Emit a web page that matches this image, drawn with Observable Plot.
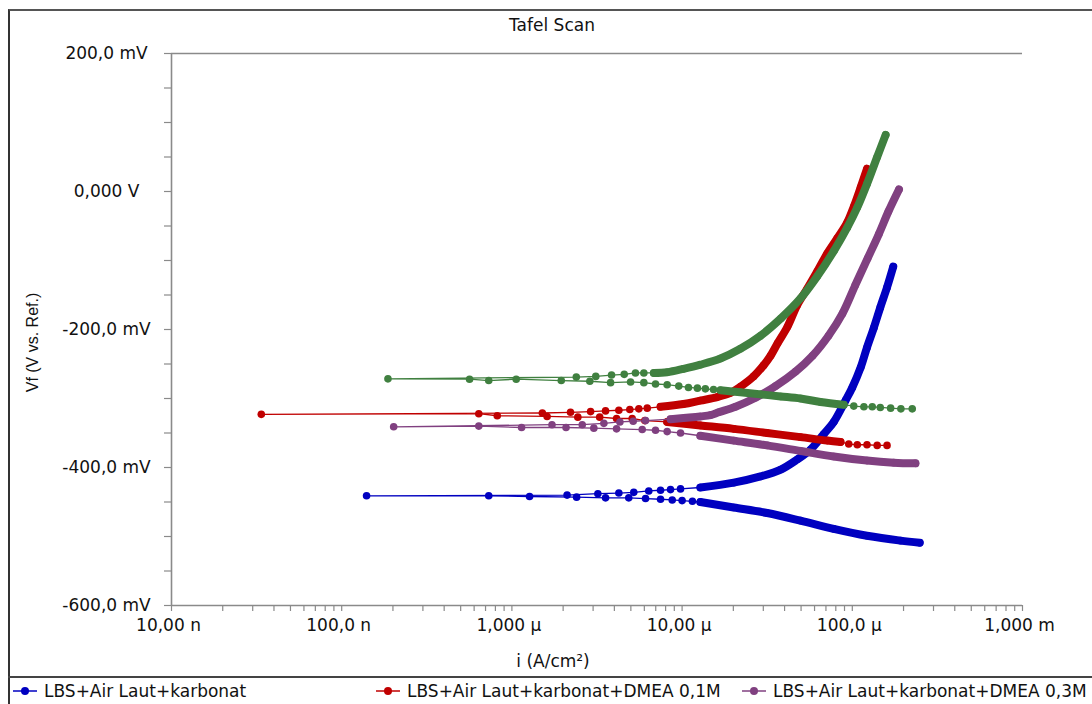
<!DOCTYPE html>
<html>
<head>
<meta charset="utf-8">
<script src="https://cdn.jsdelivr.net/npm/d3@7"></script>
<script src="https://cdn.jsdelivr.net/npm/@observablehq/plot@0.6"></script>
<style>
  body { margin: 0; background: #fff; }
  #wrap { position: relative; width: 1092px; height: 704px; overflow: hidden; background: #fff; font-family: "DejaVu Sans", sans-serif; color: #111; }
  #chart { position: absolute; left: 0; top: 0; }
  #title { position: absolute; left: 0; top: 14px; width: 1104px; text-align: center; font-size: 17px; line-height: 22px; }
  #border { position: absolute; left: 8px; top: 9px; width: 1200px; height: 800px; border-left: 2px solid #333; border-top: 2px solid #555; pointer-events: none; }
  #sep { position: absolute; left: 8px; top: 676px; width: 1200px; border-top: 2px solid #444; pointer-events: none; }
  .leg { position: absolute; top: 680px; height: 22px; display: flex; align-items: center; font-size: 17px; white-space: nowrap; }
  .leg svg { margin-right: 6px; }
</style>
</head>
<body>
<div id="wrap">
  <div id="chart"></div>
  <div id="title"></div>
  <div id="border"></div>
  <div id="sep"></div>
  <div id="legend"></div>
</div>
<script>
// ---- data: [current density (A/cm²), potential (mV vs Ref.)] in scan order ----
const seriesNames = ["LBS+Air Laut+karbonat", "LBS+Air Laut+karbonat+DMEA 0,1M", "LBS+Air Laut+karbonat+DMEA 0,3M", "LBS+Air Laut+karbonat+DMEA 0,5M"];
const seriesColors = ["#0000c0", "#c00000", "#804080", "#408040"];

const blueCathBand = [[2.49e-4,-509],[1.92e-4,-506],[1.22e-4,-499],[7.78e-5,-489],[4.96e-5,-477],[3.16e-5,-466],[2.01e-5,-458],[1.28e-5,-450]];
const blueLow = [[1.15e-5,-449],[1.00e-5,-448],[8.75e-6,-447],[7.47e-6,-446],[6.10e-6,-445],[4.86e-6,-444],[3.55e-6,-444],[2.40e-6,-443],[1.27e-6,-442],[7.31e-7,-441],[1.40e-7,-441],[2.11e-6,-440],[3.20e-6,-438],[4.25e-6,-437],[5.20e-6,-436],[6.37e-6,-434],[7.47e-6,-433],[8.55e-6,-432],[9.79e-6,-431]];
const blueAnodBand = [[1.28e-5,-429],[2.01e-5,-422],[2.89e-5,-413],[3.80e-5,-403],[4.77e-5,-388],[5.69e-5,-374],[6.78e-5,-352],[7.78e-5,-334],[9.12e-5,-303],[1.00e-4,-284],[1.12e-4,-255],[1.22e-4,-226],[1.34e-4,-197],[1.46e-4,-168],[1.60e-4,-139],[1.74e-4,-109]];

const redCathEnd = [[1.60e-4,-368],[1.40e-4,-368],[1.22e-4,-367],[1.07e-4,-367],[9.53e-5,-366]];
const redCathBand = [[8.53e-5,-363],[7.13e-5,-361],[4.96e-5,-356],[3.16e-5,-350],[2.01e-5,-344],[1.28e-5,-339],[8.17e-6,-334]];
const redLow = [[6.04e-6,-332],[5.09e-6,-329],[4.12e-6,-329],[3.28e-6,-327],[2.44e-6,-327],[1.61e-6,-326],[8.20e-7,-325],[6.39e-7,-322],[3.37e-8,-323],[1.51e-6,-321],[2.21e-6,-320],[2.90e-6,-319],[3.55e-6,-318],[4.25e-6,-317],[4.93e-6,-316],[5.57e-6,-315],[6.24e-6,-314]];
const redAnodBand = [[7.47e-6,-312],[1.02e-5,-308],[1.28e-5,-303],[1.61e-5,-298],[1.92e-5,-292],[2.20e-5,-283],[2.63e-5,-268],[3.01e-5,-252],[3.31e-5,-238],[3.64e-5,-220],[4.16e-5,-196],[4.74e-5,-165],[5.43e-5,-141],[6.22e-5,-116],[7.12e-5,-90],[8.15e-5,-68],[9.33e-5,-45],[1.02e-4,-22],[1.12e-4,6],[1.22e-4,33]];

const purpleCathBand = [[2.35e-4,-394],[1.75e-4,-393],[1.22e-4,-390],[7.78e-5,-384],[4.96e-5,-376],[3.16e-5,-368],[2.01e-5,-361],[1.28e-5,-354]];
const purpleLow = [[9.79e-6,-350],[8.17e-6,-348],[6.98e-6,-346],[5.83e-6,-345],[4.12e-6,-344],[3.03e-6,-343],[2.08e-6,-342],[1.14e-6,-342],[6.39e-7,-340],[2.02e-7,-341],[1.72e-6,-338],[2.59e-6,-338],[3.47e-6,-336],[4.31e-6,-334],[5.16e-6,-333],[6.10e-6,-332]];
const purpleAnodBand = [[8.55e-6,-330],[1.28e-5,-326],[1.47e-5,-324],[1.64e-5,-320],[2.06e-5,-312],[2.70e-5,-299],[3.54e-5,-282],[4.64e-5,-261],[5.84e-5,-238],[7.25e-5,-209],[8.75e-5,-177],[1.04e-4,-136],[1.23e-4,-97],[1.43e-4,-62],[1.63e-4,-29],[1.88e-4,3]];

const greenCathEnd = [[2.25e-4,-315],[1.93e-4,-315],[1.68e-4,-314],[1.46e-4,-313],[1.31e-4,-312],[1.17e-4,-312],[1.02e-4,-311]];
const greenCathBand = [[8.91e-5,-309],[6.50e-5,-305],[4.96e-5,-300],[3.80e-5,-297],[2.89e-5,-294],[2.20e-5,-291],[1.68e-5,-288]];
const greenLow = [[1.53e-5,-287],[1.37e-5,-286],[1.23e-5,-285],[1.09e-5,-284],[9.56e-6,-282],[8.17e-6,-280],[6.98e-6,-279],[5.96e-6,-277],[4.98e-6,-276],[3.80e-6,-277],[2.87e-6,-275],[1.95e-6,-274],[1.06e-6,-272],[7.31e-7,-274],[5.64e-7,-272],[1.87e-7,-271.5],[2.39e-6,-269],[3.11e-6,-268],[3.85e-6,-266],[4.57e-6,-265],[5.32e-6,-263],[5.96e-6,-263]];
const greenAnodBand = [[6.82e-6,-263],[8.17e-6,-262],[1.02e-5,-257],[1.28e-5,-251],[1.68e-5,-242],[2.20e-5,-228],[2.89e-5,-209],[3.80e-5,-184],[4.96e-5,-155],[6.22e-5,-123],[7.80e-5,-86],[9.35e-5,-52],[1.07e-4,-23],[1.22e-4,11],[1.40e-4,50],[1.57e-4,82]];

const xDomain = [1e-8, 1e-3];
const yDomain = [-600, 200];
const xTickValues = [1e-8, 1e-7, 1e-6, 1e-5, 1e-4, 1e-3];
const xTickLabels = ["10,00 n", "100,0 n", "1,000 µ", "10,00 µ", "100,0 µ", "1,000 m"];
const yTickValues = [200, 0, -200, -400, -600];
const yTickLabels = ["200,0 mV", "0,000 V", "-200,0 mV", "-400,0 mV", "-600,0 mV"];
const titleText = "Tafel Scan";
const xTitle = "i (A/cm²)";
const yTitle = "Vf (V vs. Ref.)";
const legendShown = 3;

// ---- build ----
const series = [
  {name: seriesNames[0], color: seriesColors[0], pieces: [[blueCathBand, true], [blueLow, false], [blueAnodBand, true]]},
  {name: seriesNames[1], color: seriesColors[1], pieces: [[redCathEnd, false], [redCathBand, true], [redLow, false], [redAnodBand, true]]},
  {name: seriesNames[2], color: seriesColors[2], pieces: [[purpleCathBand, true], [purpleLow, false], [purpleAnodBand, true]]},
  {name: seriesNames[3], color: seriesColors[3], pieces: [[greenCathEnd, false], [greenCathBand, true], [greenLow, false], [greenAnodBand, true]]}
];

const xMinor = [];
for (let e = -8; e < -3; e++) for (let k = 1; k <= 9; k++) xMinor.push(k * Math.pow(10, e));
xMinor.push(1e-3);
const yMinor = d3.range(yDomain[0], yDomain[1] + 1, 50);

const axisGray = "#8a8a8a";
const marks = [
  Plot.ruleX([xDomain[0]], {stroke: axisGray, strokeWidth: 1.6}),
  Plot.ruleY([yDomain[0]], {stroke: axisGray, strokeWidth: 1.6}),
  Plot.ruleY([yDomain[1]], {stroke: axisGray, strokeWidth: 1.6}),
  Plot.axisX({ticks: xMinor, tickSize: 6, tickFormat: () => "", label: null, stroke: axisGray, strokeWidth: 1.2}),
  Plot.axisY({ticks: yMinor, tickSize: 7, tickFormat: () => "", label: null, stroke: axisGray, strokeWidth: 1.2}),
  Plot.text(xTickValues.map((v, i) => ({v, label: xTickLabels[i]})), {x: "v", text: "label", frameAnchor: "bottom", lineAnchor: "middle", textAnchor: "middle", dy: 20, dx: -3, fontSize: 17, fill: "#111"}),
  Plot.text(yTickValues.map((v, i) => ({v, label: yTickLabels[i]})), {y: "v", text: "label", frameAnchor: "left", lineAnchor: "middle", textAnchor: "middle", dx: -65, fontSize: 17, fill: "#111"}),
  Plot.text([xTitle], {text: d => d, frameAnchor: "bottom", lineAnchor: "middle", textAnchor: "middle", dx: -44, dy: 56, fontSize: 17, fill: "#111"}),
  Plot.text([yTitle], {text: d => d, frameAnchor: "left", lineAnchor: "middle", textAnchor: "middle", rotate: -90, dx: -139, dy: 13, fontSize: 16, fontFamily: "Liberation Sans", fill: "#111"})
];

for (const s of series) {
  const all = s.pieces.flatMap(p => p[0]);
  marks.push(Plot.line(all, {x: d => d[0], y: d => d[1], stroke: s.color, strokeWidth: 1.3}));
  for (const [pts, band] of s.pieces) {
    if (band) marks.push(Plot.line(pts, {x: d => d[0], y: d => d[1], stroke: s.color, strokeWidth: 8, curve: "catmull-rom", strokeLinecap: "round", strokeLinejoin: "round"}));
  }
  marks.push(Plot.dot(all, {x: d => d[0], y: d => d[1], r: 3.8, fill: s.color}));
}

const chart = Plot.plot({
  width: 1092,
  height: 676,
  marginLeft: 171,
  marginRight: 70,
  marginTop: 53,
  marginBottom: 71,
  x: {type: "log", domain: xDomain},
  y: {domain: yDomain},
  style: {fontFamily: "DejaVu Sans, sans-serif", fontSize: "17px", background: "transparent", overflow: "visible"},
  marks
});
document.getElementById("chart").appendChild(chart);
document.getElementById("title").textContent = titleText;

// legend
const legendLefts = [12, 375, 741];
const leg = document.getElementById("legend");
series.slice(0, legendShown).forEach((s, i) => {
  const div = document.createElement("div");
  div.className = "leg";
  div.style.left = legendLefts[i] + "px";
  div.innerHTML = `<svg width="26" height="12"><line x1="1" y1="6" x2="25" y2="6" stroke="${s.color}" stroke-width="1.5"/><circle cx="13" cy="6" r="4" fill="${s.color}"/></svg>`;
  const span = document.createElement("span");
  span.textContent = s.name;
  div.appendChild(span);
  leg.appendChild(div);
});
</script>
</body>
</html>
